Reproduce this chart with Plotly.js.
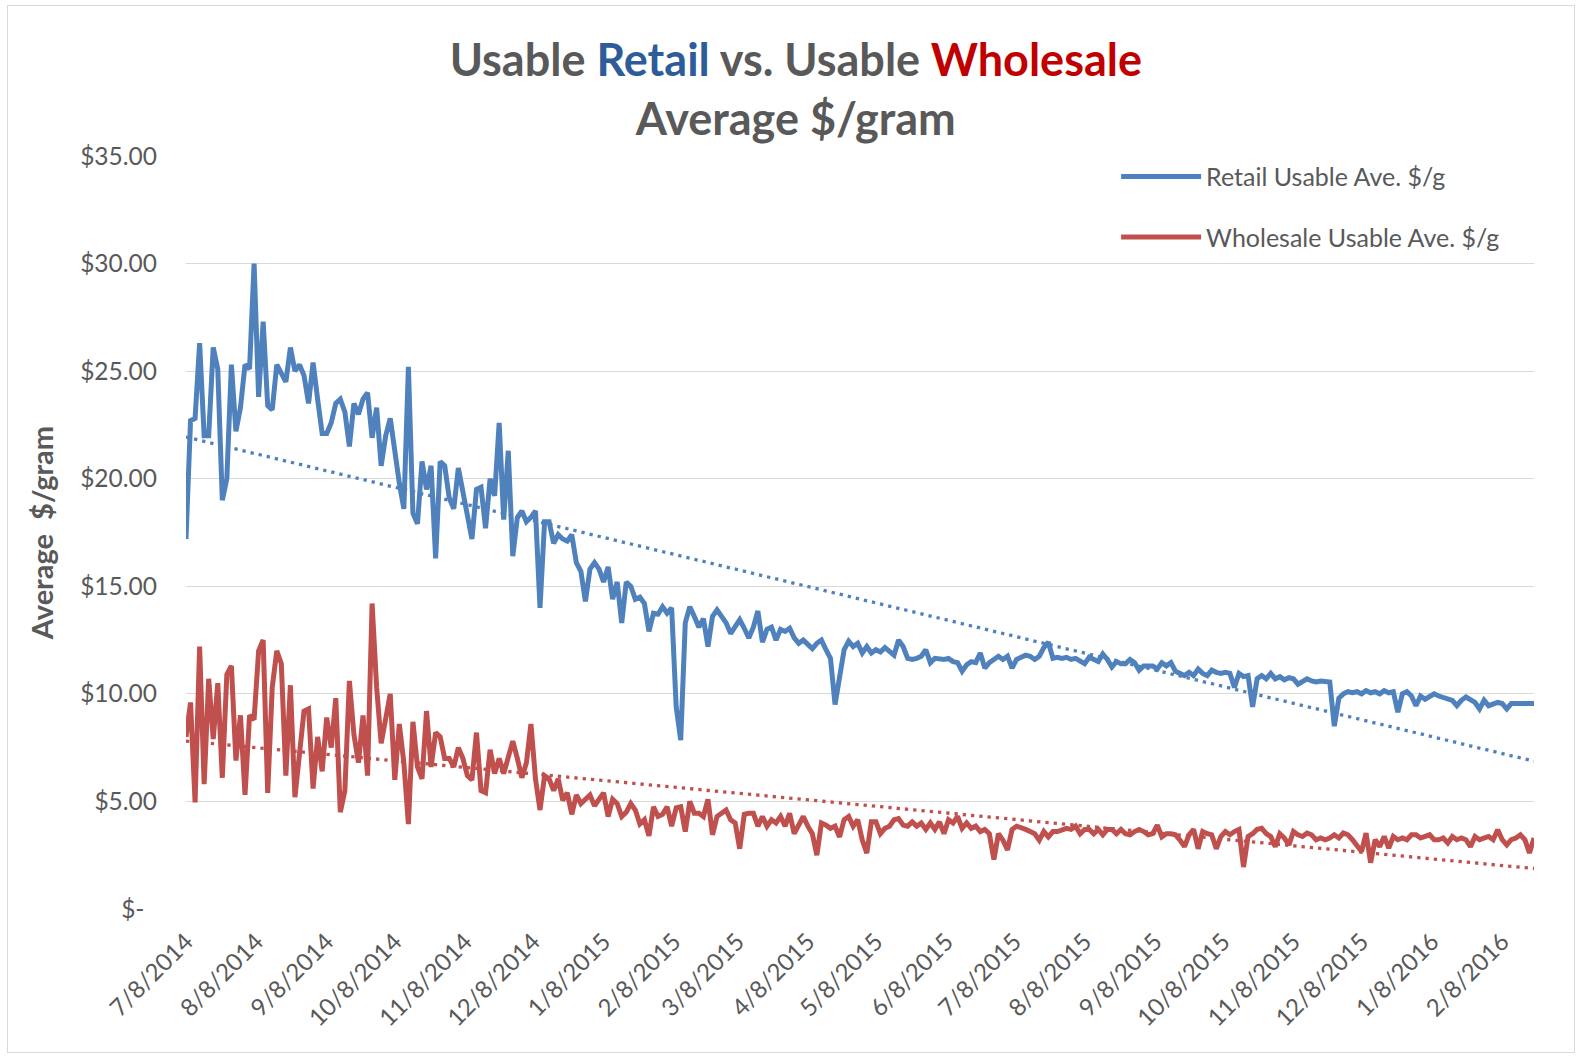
<!DOCTYPE html>
<html>
<head>
<meta charset="utf-8">
<script src="https://cdn.plot.ly/plotly-3.0.1.min.js"></script>
<style>
  html, body { margin: 0; padding: 0; background: #ffffff; overflow: hidden; }
  #wrap { position: relative; width: 1579px; height: 1057px; }
  #chart { width: 1579px; height: 1057px; }
  #frame { position: absolute; left: 7px; top: 5px; width: 1568px; height: 1048px;
           border: 1px solid #d9d9d9; pointer-events: none; box-sizing: border-box; }
</style>
</head>
<body>
<div id="wrap"><div id="chart"></div><div id="frame"></div></div>
<script>
// ---- data (one value every 2 days, starting 7/8/2014) ----
const startDate = [2014, 7, 8];
const stepDays = 2;

const retailValues = [
  17.2, 22.7, 22.8, 26.3, 22.0, 22.0, 26.1, 25.1, 19.0, 20.0,
  25.3, 22.2, 23.3, 25.3, 25.1, 30.0, 23.8, 27.3, 23.4, 23.2,
  25.3, 24.95, 24.5, 26.1, 25.0, 25.3, 24.8, 23.5, 25.4, 23.7,
  22.1, 22.1, 22.6, 23.5, 23.7, 23.1, 21.5, 23.5, 23.0, 23.7,
  24.0, 21.9, 23.3, 20.6, 22.0, 22.8, 21.1, 19.8, 18.6, 25.2,
  18.4, 17.9, 20.8, 19.5, 20.6, 16.3, 20.8, 20.6, 19.1, 18.6,
  20.5, 19.4, 18.3, 17.2, 19.5, 19.6, 17.7, 20.0, 19.2, 22.6,
  18.1, 21.3, 16.4, 18.2, 18.5, 18.0, 18.2, 18.5, 14.0, 18.0,
  18.0, 17.0, 17.4, 17.2, 17.1, 17.4, 16.1, 15.7, 14.3, 15.8,
  16.1, 15.8, 15.2, 15.9, 14.4, 15.2, 13.3, 15.2, 15.0, 14.4,
  14.5, 14.2, 12.9, 13.75, 13.7, 14.05, 13.75, 14.0, 9.4, 7.85,
  13.3, 14.05, 13.6, 13.1, 13.5, 12.2, 13.6, 13.9, 13.6, 13.3,
  12.8, 13.1, 13.45, 13.05, 12.6, 13.1, 13.85, 12.4, 13.0, 13.1,
  12.5, 13.0, 12.9, 13.05, 12.6, 12.35, 12.5, 12.3, 12.1, 12.35,
  12.5, 12.05, 11.65, 9.5, 10.8, 12.05, 12.45, 12.2, 12.35, 11.9,
  12.2, 11.9, 12.05, 11.95, 12.15, 11.95, 11.8, 12.5, 12.2, 11.65,
  11.6, 11.65, 11.75, 12.05, 11.45, 11.65, 11.6, 11.6, 11.65, 11.5,
  11.45, 11.05, 11.35, 11.5, 11.45, 11.9, 11.2, 11.45, 11.6, 11.75,
  11.6, 11.75, 11.2, 11.6, 11.7, 11.8, 11.75, 11.6, 11.75, 12.15,
  12.4, 11.65, 11.7, 11.65, 11.7, 11.6, 11.65, 11.5, 11.4, 11.7,
  11.6, 11.5, 11.85, 11.6, 11.25, 11.5, 11.4, 11.4, 11.6, 11.45,
  11.1, 11.3, 11.3, 11.3, 11.15, 11.45, 11.3, 11.45, 11.05, 10.95,
  10.85, 11.0, 10.85, 11.15, 10.95, 10.85, 11.1, 11.0, 10.95, 11.0,
  10.95, 10.3, 10.95, 10.8, 10.85, 9.4, 10.7, 10.85, 10.7, 10.95,
  10.7, 10.8, 10.65, 10.75, 10.7, 10.45, 10.6, 10.7, 10.6, 10.55,
  10.6, 10.55, 10.55, 8.5, 9.8, 10.0, 10.1, 10.05, 10.1, 10.0,
  10.15, 10.05, 10.1, 10.0, 10.15, 10.05, 10.1, 9.15, 10.0, 10.1,
  9.9, 9.45, 9.9, 9.75, 9.85, 10.0, 9.9, 9.85, 9.75, 9.7,
  9.45, 9.7, 9.85, 9.7, 9.6, 9.3, 9.7, 9.45, 9.55, 9.6,
  9.55, 9.3, 9.55, 9.55, 9.6, 9.55, 9.6, 9.55
];

const wholesaleValues = [
  8.0, 9.6, 4.95, 12.2, 5.8, 10.7, 7.9, 10.5, 6.1, 10.9,
  11.3, 6.9, 9.0, 5.3, 9.0, 8.8, 12.0, 12.5, 5.4, 10.3,
  12.0, 11.4, 6.2, 10.4, 5.2, 7.3, 9.2, 9.3, 5.6, 8.0,
  6.4, 8.9, 7.5, 9.8, 4.5, 5.5, 10.6, 8.1, 6.8, 9.0,
  6.2, 14.2, 10.3, 7.7, 8.9, 10.0, 6.0, 8.6, 6.8, 3.95,
  8.7, 6.6, 6.05, 9.2, 6.6, 8.2, 8.0, 7.0, 7.0, 6.6,
  7.5, 7.0, 6.2, 6.0, 8.2, 5.5, 5.4, 7.4, 6.3, 7.0,
  6.3, 7.1, 7.8, 7.0, 6.1, 6.8, 8.6, 6.05, 4.6, 6.2,
  6.05, 5.5, 6.05, 5.05, 5.4, 4.4, 5.3, 4.9, 5.1, 5.3,
  4.8, 5.1, 5.4, 4.3, 5.1, 4.9, 4.3, 4.5, 4.9, 4.6,
  3.95, 4.15, 3.4, 4.75, 4.3, 4.4, 4.75, 3.85, 4.7, 4.75,
  3.6, 5.0, 4.45, 4.45, 4.3, 5.1, 3.45, 4.3, 4.45, 4.6,
  4.15, 4.0, 2.8, 4.4, 4.45, 4.45, 3.85, 4.3, 3.85, 4.15,
  4.0, 4.3, 3.85, 4.45, 3.5, 3.9, 4.3, 3.85, 3.5, 2.5,
  4.0, 3.9, 3.75, 3.85, 3.35, 4.15, 4.3, 3.85, 4.15, 3.2,
  2.6, 4.05, 4.05, 3.5, 3.75, 3.85, 4.15, 4.2, 3.9, 3.85,
  4.05, 3.85, 4.0, 3.7, 4.0, 3.7, 4.05, 3.5, 4.15, 4.0,
  4.3, 3.75, 4.0, 3.75, 3.85, 3.6, 3.7, 3.5, 2.3, 3.5,
  3.2, 2.75, 3.7, 3.85, 3.8, 3.7, 3.6, 3.5, 3.2, 3.6,
  3.35, 3.6, 3.6, 3.7, 3.75, 3.7, 3.85, 3.5, 3.7, 3.7,
  3.5, 3.7, 3.45, 3.7, 3.7, 3.5, 3.7, 3.5, 3.45, 3.6,
  3.7, 3.6, 3.45, 3.5, 3.9, 3.35, 3.5, 3.5, 3.45, 3.2,
  2.9, 3.45, 3.7, 2.8, 3.6, 3.5, 3.45, 2.8, 3.37, 3.6,
  3.45, 3.6, 3.7, 1.95, 3.37, 3.5, 3.7, 3.75, 3.5, 3.37,
  2.9, 3.5, 3.3, 2.98, 3.6, 3.45, 3.37, 3.53, 3.45, 3.22,
  3.3, 3.22, 3.3, 3.45, 3.3, 3.53, 3.45, 3.22, 2.9, 2.67,
  3.53, 2.15, 3.22, 2.9, 3.37, 2.83, 3.37, 3.22, 3.3, 3.22,
  3.45, 3.45, 3.3, 3.37, 3.45, 3.22, 3.22, 3.3, 3.07, 3.37,
  3.22, 3.3, 3.22, 2.9, 3.37, 3.22, 3.3, 3.37, 3.22, 3.68,
  3.22, 2.98, 3.22, 3.3, 3.45, 3.22, 2.6, 3.3
];

const xTickDates = [
  '2014-07-08', '2014-08-08', '2014-09-08', '2014-10-08', '2014-11-08', '2014-12-08',
  '2015-01-08', '2015-02-08', '2015-03-08', '2015-04-08', '2015-05-08', '2015-06-08',
  '2015-07-08', '2015-08-08', '2015-09-08', '2015-10-08', '2015-11-08', '2015-12-08',
  '2016-01-08', '2016-02-08'
];
const yTickVals = [0, 5, 10, 15, 20, 25, 30, 35];
const yTickText = ['$-\u00a0\u00a0', '$5.00', '$10.00', '$15.00', '$20.00', '$25.00', '$30.00', '$35.00'];

const seriesNames = ['Retail Usable Ave. $/g', 'Wholesale Usable Ave. $/g'];
const seriesColors = ['#4F81BD', '#C0504D'];

// ---- build dates ----
const t0 = Date.UTC(startDate[0], startDate[1] - 1, startDate[2]);
function dateAt(dayIdx) {
  return new Date(t0 + dayIdx * 86400000).toISOString().slice(0, 10);
}
const days = retailValues.map((_, i) => i * stepDays);
const dates = days.map(dateAt);

// ---- linear trendlines (least squares, as Excel does) ----
function linFit(xs, ys) {
  const n = xs.length;
  let sx = 0, sy = 0, sxx = 0, sxy = 0;
  for (let i = 0; i < n; i++) { sx += xs[i]; sy += ys[i]; sxx += xs[i] * xs[i]; sxy += xs[i] * ys[i]; }
  const b = (n * sxy - sx * sy) / (n * sxx - sx * sx);
  const a = (sy - b * sx) / n;
  return { a, b };
}
const lastDay = days[days.length - 1];
const fitR = linFit(days, retailValues);
const fitW = linFit(days, wholesaleValues.slice(0, days.length));
const trendX = [dates[0], dates[dates.length - 1]];

const font = 'Lato, "Open Sans", sans-serif';
const grey = '#595959';

const traces = [
  {
    x: dates, y: retailValues, type: 'scatter', mode: 'lines', name: seriesNames[0],
    line: { color: seriesColors[0], width: 5 }, legendgroup: 'r', hoverinfo: 'x+y'
  },
  {
    x: dates, y: wholesaleValues, type: 'scatter', mode: 'lines', name: seriesNames[1],
    line: { color: seriesColors[1], width: 5 }, legendgroup: 'w', hoverinfo: 'x+y'
  },
  {
    x: trendX, y: [fitR.a, fitR.a + fitR.b * lastDay], type: 'scatter', mode: 'lines',
    name: 'Linear (Retail)', showlegend: false,
    line: { color: seriesColors[0], width: 3.3, dash: '3.3px,5px' }
  },
  {
    x: trendX, y: [fitW.a, fitW.a + fitW.b * lastDay], type: 'scatter', mode: 'lines',
    name: 'Linear (Wholesale)', showlegend: false,
    line: { color: seriesColors[1], width: 3.3, dash: '3.3px,5px' }
  }
];

const layout = {
  width: 1579, height: 1057,
  paper_bgcolor: '#ffffff', plot_bgcolor: '#ffffff',
  margin: { l: 186, r: 45, t: 156, b: 148 },
  title: {
    text: 'Usable <span style="color:#2E5C9A">Retail</span> vs. Usable <span style="color:#C00000">Wholesale</span><br>Average $/gram',
    font: { family: font, size: 45, color: grey, weight: 'bold' },
    x: 0.504, xref: 'container', xanchor: 'center',
    y: 1 - 76 / 1057, yref: 'container', yanchor: 'top'
  },
  showlegend: true,
  legend: {
    x: 0.69, y: 1.003, xanchor: 'left', yanchor: 'top',
    bgcolor: 'rgba(0,0,0,0)', borderwidth: 0,
    font: { family: font, size: 25, color: grey },
    itemwidth: 80, traceorder: 'grouped', tracegroupgap: 25
  },
  xaxis: {
    type: 'date',
    range: [dates[0], dates[dates.length - 1]],
    showgrid: false, zeroline: false, showline: false,
    tickmode: 'array', tickvals: xTickDates, tickformat: '%-m/%-d/%Y',
    tickangle: -45, ticks: '', ticklabelstandoff: 13,
    tickfont: { family: font, size: 24, color: grey }
  },
  yaxis: {
    range: [0, 35], tickmode: 'array', tickvals: yTickVals, ticktext: yTickText,
    showgrid: true, gridcolor: '#d9d9d9', gridwidth: 1.2, zeroline: false, showline: false,
    ticks: '', ticklabelstandoff: 28,
    tickfont: { family: font, size: 24.5, color: grey },
    title: { text: 'Average  $/gram', font: { family: font, size: 29, color: grey, weight: 'bold' }, standoff: 18 }
  },
  hovermode: 'closest'
};

Plotly.newPlot('chart', traces, layout, { displayModeBar: false, staticPlot: true });
</script>
</body>
</html>
